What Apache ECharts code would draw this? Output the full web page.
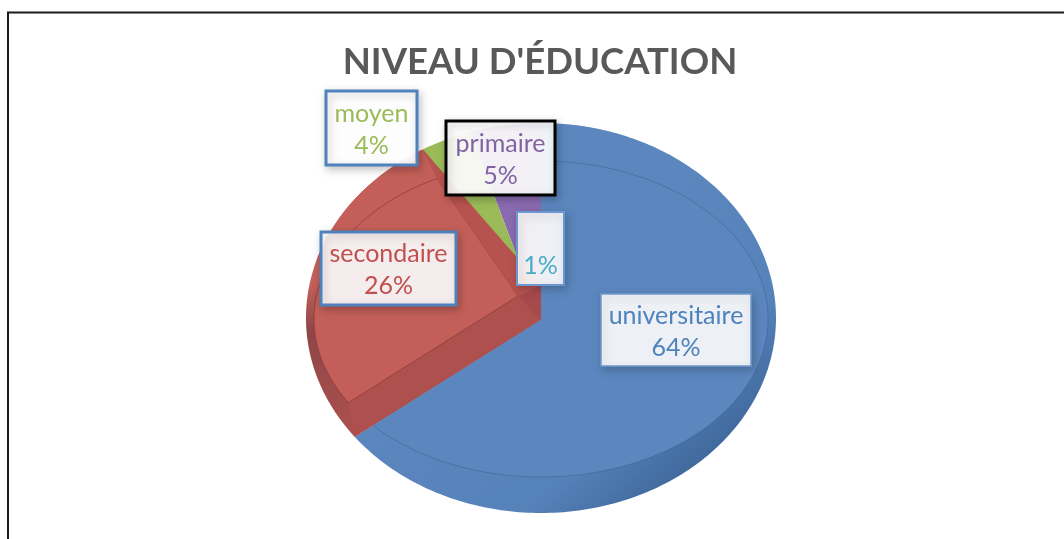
<!DOCTYPE html>
<html>
<head>
<meta charset="utf-8">
<style>html,body{margin:0;padding:0;background:#fff;overflow:hidden}#c{width:1064px;height:539px}</style>
<script src="https://cdn.jsdelivr.net/npm/echarts@6/dist/echarts.min.js"></script>
</head>
<body>
<div id="c"></div>
<script>
const titleText = "NIVEAU D'ÉDUCATION";
const categories = ['universitaire', 'secondaire', 'moyen', 'primaire', ' '];
const shares = [64, 26, 4, 5, 1];

const textColors = ['#4f81bd', '#c0504d', '#9bbb59', '#8064a2', '#4bacc6'];
const faceColors = ['#5b87be', '#c35f58', '#9bbb59', '#8a6bb0', '#4bacc6'];
const layers = [6, 4, 3, 2, 1];
const labelBoxes = [
  {x: 601, y: 294, w: 150, h: 72, bc: '#7099cc', lw: 1.5, fill: 'rgba(255,255,255,0.9)'},
  {x: 321, y: 232, w: 135, h: 73, bc: '#4f81bd', lw: 3, fill: 'rgba(255,255,255,0.9)'},
  {x: 326, y: 91, w: 91, h: 74, bc: '#4f81bd', lw: 3, fill: 'rgba(255,255,255,0.95)'},
  {x: 446, y: 121, w: 109, h: 74, bc: '#000000', lw: 3, fill: 'rgba(255,255,255,0.92)'},
  {x: 517, y: 212, w: 47, h: 73, bc: '#6a97cf', lw: 2, fill: 'rgba(255,255,255,0.9)'}
];

const outer = {cx: 541, cy: 318, rx: 235, ry: 195};
const inner = {cx: 541, cy: 319, rx: 227, ry: 158};
const apex = [541, 320];
const apexLift = [541, 285];
const apexShift = [518, 296];
const G = echarts.graphic.LinearGradient;

function dir(deg) {
  const r = deg * Math.PI / 180, s = Math.sin(r), c = Math.cos(r);
  return [s, -c * (c > 0 ? 1.05 : 0.76)];
}
function hit(o, d, e) {
  const ox = (o[0] - e.cx) / e.rx, oy = (o[1] - e.cy) / e.ry;
  const dx = d[0] / e.rx, dy = d[1] / e.ry;
  const a = dx * dx + dy * dy, b = 2 * (ox * dx + oy * dy), c = ox * ox + oy * oy - 1;
  const t = (-b + Math.sqrt(b * b - 4 * a * c)) / (2 * a);
  return [o[0] + d[0] * t, o[1] + d[1] * t];
}
function arc(a0, a1, e, o) {
  const p = [];
  for (let a = a0; a < a1; a += 1) p.push(hit(o, dir(a), e));
  p.push(hit(o, dir(a1), e));
  return p;
}
function ellipseParam(p, e) {
  let t = Math.atan2((p[0] - e.cx) / e.rx, -(p[1] - e.cy) / e.ry) * 180 / Math.PI;
  return t < 0 ? t + 360 : t;
}
function poly(points, fill, z2, stroke) {
  return {type: 'polygon', shape: {points}, z2, style: {fill, stroke: stroke || 'none', lineWidth: stroke ? 0.6 : 0}};
}
function line(points, stroke, z2) {
  return {type: 'polyline', shape: {points}, z2, style: {fill: 'none', stroke, lineWidth: 1}};
}

const total = shares.reduce((a, b) => a + b, 0);

function renderItem(params, api) {
  const i = params.dataIndex;
  let before = 0;
  for (let k = 0; k < i; k++) before += shares[k];
  const a0 = before / total * 360;
  const a1 = a0 + api.value(0) / total * 360;
  const z = layers[i];
  const children = [];

  if (i === 0) {
    const side = new G(600, 230, 770, 430, [
      {offset: 0, color: '#5b87be'}, {offset: 0.62, color: '#5682ba'}, {offset: 1, color: '#3b6496'}
    ], true);
    children.push(poly([apex].concat(arc(a0, a1, outer, apex)), side, z));
    children.push(poly([apex].concat(arc(a0, a1, inner, apex)), faceColors[0], z));
    children.push(line(arc(a0, a1, inner, apex), 'rgba(50,85,135,0.4)', z));
  } else if (i === 1) {
    const side = new G(0, 285, 0, 440, [
      {offset: 0, color: '#c35f58'}, {offset: 0.3, color: '#8f4647'}, {offset: 1, color: '#ad514e'}
    ], true);
    children.push(poly([apex].concat(arc(a0, a1, outer, apex)), side, z));
    const dLow = dir(a0), dUp = dir(a1);
    const cLow = hit(apexShift, dLow, inner), cUp = hit(apexShift, dUp, inner);
    const t0 = ellipseParam(cLow, inner), t1 = ellipseParam(cUp, inner);
    const faceArc = [];
    for (let t = t0; t < t1; t += 1) {
      const r = t * Math.PI / 180;
      faceArc.push([inner.cx + inner.rx * Math.sin(r), inner.cy - inner.ry * Math.cos(r)]);
    }
    faceArc.push(cUp);
    const upOuter = hit(apex, dUp, outer);
    const lowOuter = hit(apex, dLow, outer);
    children.push(poly([upOuter].concat(arc(a1 - 40, a1, outer, apex).reverse(), faceArc.slice().reverse()), faceColors[1], z));
    children.push(poly([apexShift, cLow].concat(faceArc, [cUp]), faceColors[1], z));
    children.push(poly([apex, lowOuter, cLow, apexShift], '#ad504e', z + 1));
    children.push(poly([apexLift, upOuter, cUp, apexShift], '#b7534f', z + 1));
    children.push(poly([apexLift, apexShift, apex], '#a8494b', z + 1));
    children.push(line(faceArc, 'rgba(120,50,50,0.6)', z + 1));
    children.push(line([apexShift, cLow], 'rgba(120,50,50,0.5)', z + 1));
    children.push(line([apexShift, cUp], 'rgba(150,60,60,0.4)', z + 1));
  } else if (i === 3) {
    // the thin last slice sits underneath this one in the reference view
    const nextShare = shares[4] / total * 360;
    children.push(poly([apex].concat(arc(a0, a1 + nextShare, outer, apex)), faceColors[i], z));
  } else {
    children.push(poly([apex].concat(arc(a0, a1, outer, apex)), faceColors[i], z));
  }

  const b = labelBoxes[i];
  children.push({
    type: 'rect', z2: 20 + i,
    shape: {x: b.x, y: b.y, width: b.w, height: b.h},
    style: {fill: b.fill, stroke: b.bc, lineWidth: b.lw,
      shadowBlur: 8, shadowOffsetX: 2, shadowOffsetY: 3, shadowColor: 'rgba(0,0,0,0.22)'}
  });
  const pct = Math.round(api.value(0) / total * 100) + '%';
  children.push({
    type: 'text', z2: 30 + i,
    x: b.x + b.w / 2, y: b.y + b.h / 2 + 1.5,
    style: {
      text: categories[i] + '\n' + pct,
      fill: textColors[i], font: '25px Lato',
      align: 'center', verticalAlign: 'middle', lineHeight: 32
    }
  });
  return {type: 'group', children};
}

const chart = echarts.init(document.getElementById('c'), null, {renderer: 'canvas'});
chart.setOption({
  animation: false,
  backgroundColor: '#ffffff',
  title: {
    text: titleText, left: 535, top: 39, textAlign: 'center',
    textStyle: {color: '#595959', fontFamily: 'Lato', fontWeight: 'bold', fontSize: 36.5}
  },
  graphic: [{
    type: 'rect', silent: true, z: -1,
    shape: {x: 8, y: 12.5, width: 1200, height: 700},
    style: {fill: '#fff', stroke: '#1a1a1a', lineWidth: 2}
  }],
  series: [{
    type: 'custom',
    coordinateSystem: 'none',
    silent: true,
    renderItem,
    data: categories.map((name, i) => ({name, value: [shares[i]]}))
  }]
});
</script>
</body>
</html>
